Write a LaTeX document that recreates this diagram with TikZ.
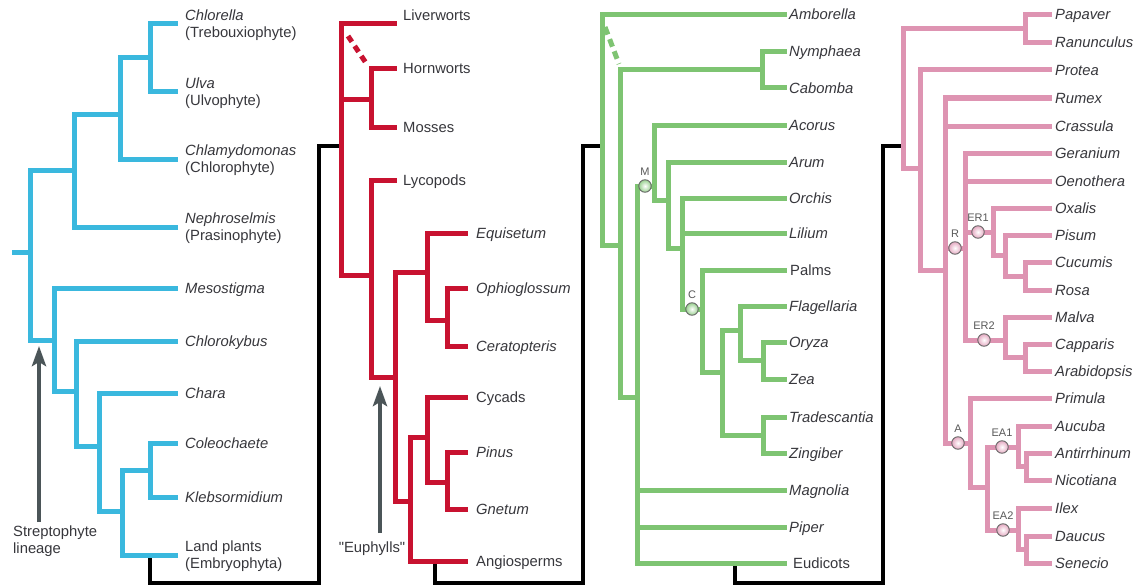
\documentclass[tikz,border=0pt]{standalone}
\usepackage{fontspec}
\setmainfont{Liberation Sans}
\newfontfamily\plainquote{Liberation Sans}
\usetikzlibrary{arrows.meta}
\definecolor{cblue}{RGB}{58,184,222}
\definecolor{cred}{RGB}{200,18,48}
\definecolor{cgreen}{RGB}{126,196,114}
\definecolor{cpink}{RGB}{222,148,178}
\definecolor{ctext}{RGB}{55,55,60}
\definecolor{carrow}{RGB}{75,85,88}
\tikzset{
  br/.style={line width=5pt},
  tb/.style={br, cblue},
  tr/.style={br, cred},
  tg/.style={br, cgreen},
  tp/.style={br, cpink},
  blk/.style={line width=4pt, black},
  arr/.style={line width=4pt, carrow, -{Stealth[length=20pt,width=14pt,inset=4pt]}},
  lab/.style={inner sep=0pt, text=ctext, font=\fontsize{14.8}{17}\selectfont, anchor=base west, yshift=-5pt},
  labi/.style={inner sep=0pt, text=ctext, font=\fontsize{14.8}{17}\selectfont\itshape, anchor=base west, yshift=-5pt},
  lab2/.style={inner sep=0pt, text=ctext, font=\fontsize{14.8}{17}\selectfont, anchor=west, align=left, yshift=-1.4pt},
  slab/.style={inner sep=0pt, text=black!65, font=\fontsize{11}{12}\selectfont},
  gdot/.style={circle, minimum size=12.5pt, inner sep=0pt, draw=black!60, line width=0.9pt, inner color=white, outer color=cgreen!80},
  pdot/.style={circle, minimum size=12.5pt, inner sep=0pt, draw=black!60, line width=0.9pt, inner color=white, outer color=cpink!80},
}
\newcommand\mkleaf[6]{%
  \coordinate (#2) at (#3,#4);
  \node[#1, xshift=#5pt] (#2-t) at (#2) {#6};
}
\begin{document}
\begin{tikzpicture}[x=1pt,y=-1pt, line join=miter]
\fill[white] (0,0) rectangle (1141,586);
\useasboundingbox (0,0) rectangle (1141,586);

% ---------- coordinates of internal nodes ----------
% blue
\coordinate (bstub) at (12,252);
\coordinate (b0) at (30,252);
\coordinate (bChl) at (74,170);
\coordinate (bCU3) at (120,114);
\coordinate (bCU) at (150,58);
\coordinate (bStr) at (54,340);
\coordinate (b2) at (76,391);
\coordinate (b3) at (99,446);
\coordinate (b4) at (122,511);
\coordinate (b5) at (150,470);
% red
\coordinate (r0) at (341,146);
\coordinate (rHM) at (371,99);
\coordinate (rT) at (371,275);
\coordinate (rEu) at (395,377);
\coordinate (rFern) at (427,272);
\coordinate (rOph) at (447,320);
\coordinate (rSeed) at (410,501);
\coordinate (rGym) at (427,437);
\coordinate (rGn) at (447,482);
% green
\coordinate (g0) at (602,146);
\coordinate (g1) at (620,245);
\coordinate (gNC) at (762,70);
\coordinate (g2) at (637,397);
\coordinate (gM) at (654,186);
\coordinate (g3) at (668,200);
\coordinate (g4) at (682,248);
\coordinate (gC) at (702,309);
\coordinate (g5) at (722,372);
\coordinate (g6) at (740,330);
\coordinate (g7) at (763,360);
\coordinate (g8) at (763,435);
% pink
\coordinate (p0) at (903,146);
\coordinate (pPR) at (1025,29);
\coordinate (p1) at (920,168);
\coordinate (p2) at (945,270);
\coordinate (pR) at (965,248);
\coordinate (pER1) at (993,232);
\coordinate (pPi) at (1005,255);
\coordinate (pCR) at (1025,276);
\coordinate (pER2) at (1005,340);
\coordinate (pCA) at (1025,357);
\coordinate (pA) at (970,443);
\coordinate (pE) at (987,487);
\coordinate (pEA1) at (1018,447);
\coordinate (pAN) at (1026,466);
\coordinate (pEA2) at (1018,530);
\coordinate (pDS) at (1026,549);

% ---------- leaves and labels ----------
\mkleaf{lab2}{Chlorella}{178}{24}{7}{\textit{Chlorella}\\(Trebouxiophyte)}
\mkleaf{lab2}{Ulva}{178}{92}{7}{\textit{Ulva}\\(Ulvophyte)}
\mkleaf{lab2}{Chlamydomonas}{178}{159}{7}{\textit{Chlamydomonas}\\(Chlorophyte)}
\mkleaf{lab2}{Nephroselmis}{178}{227}{7}{\textit{Nephroselmis}\\(Prasinophyte)}
\mkleaf{labi}{Mesostigma}{178}{288}{7}{Mesostigma}
\mkleaf{labi}{Chlorokybus}{178}{341}{7}{Chlorokybus}
\mkleaf{labi}{Chara}{178}{393}{7}{Chara}
\mkleaf{labi}{Coleochaete}{178}{443}{7}{Coleochaete}
\mkleaf{labi}{Klebsormidium}{178}{497}{7}{Klebsormidium}
\mkleaf{lab2}{Landplants}{178}{555}{7}{Land plants\\(Embryophyta)}

\coordinate (Liverworts) at (397,24);
\node[lab] (Liverworts-t) at (403,16) {Liverworts};
\mkleaf{lab}{Hornworts}{397}{69}{6}{Hornworts}
\mkleaf{lab}{Mosses}{397}{127}{6}{Mosses}
\mkleaf{lab}{Lycopods}{397}{180}{6}{Lycopods}
\mkleaf{labi}{Equisetum}{468}{233}{8}{Equisetum}
\mkleaf{labi}{Ophioglossum}{468}{288}{8}{Ophioglossum}
\mkleaf{labi}{Ceratopteris}{468}{346}{8}{Ceratopteris}
\mkleaf{lab}{Cycads}{468}{397}{8}{Cycads}
\mkleaf{labi}{Pinus}{468}{452}{8}{Pinus}
\mkleaf{labi}{Gnetum}{468}{509}{8}{Gnetum}
\mkleaf{lab}{Angiosperms}{468}{561}{8}{Angiosperms}

\mkleaf{labi}{Amborella}{787}{15}{2}{Amborella}
\mkleaf{labi}{Nymphaea}{787}{52}{2}{Nymphaea}
\mkleaf{labi}{Cabomba}{787}{88}{2}{Cabomba}
\mkleaf{labi}{Acorus}{787}{125}{2}{Acorus}
\mkleaf{labi}{Arum}{787}{162}{2}{Arum}
\mkleaf{labi}{Orchis}{787}{198}{2}{Orchis}
\mkleaf{labi}{Lilium}{787}{233}{2}{Lilium}
\mkleaf{lab}{Palms}{787}{270}{3}{Palms}
\mkleaf{labi}{Flagellaria}{787}{306}{2}{Flagellaria}
\mkleaf{labi}{Oryza}{787}{342}{2}{Oryza}
\mkleaf{labi}{Zea}{787}{379}{2}{Zea}
\mkleaf{labi}{Tradescantia}{787}{417}{2}{Tradescantia}
\mkleaf{labi}{Zingiber}{787}{453}{2}{Zingiber}
\mkleaf{labi}{Magnolia}{787}{490}{2}{Magnolia}
\mkleaf{labi}{Piper}{787}{527}{2}{Piper}
\mkleaf{lab}{Eudicots}{787}{563}{6}{Eudicots}

\mkleaf{labi}{Papaver}{1052}{15}{3}{Papaver}
\mkleaf{labi}{Ranunculus}{1052}{43}{3}{Ranunculus}
\mkleaf{labi}{Protea}{1052}{70}{3}{Protea}
\mkleaf{labi}{Rumex}{1052}{98}{3}{Rumex}
\mkleaf{labi}{Crassula}{1052}{126}{3}{Crassula}
\mkleaf{labi}{Geranium}{1052}{153}{3}{Geranium}
\mkleaf{labi}{Oenothera}{1052}{181}{3}{Oenothera}
\mkleaf{labi}{Oxalis}{1052}{208}{3}{Oxalis}
\mkleaf{labi}{Pisum}{1052}{235}{3}{Pisum}
\mkleaf{labi}{Cucumis}{1052}{262}{3}{Cucumis}
\mkleaf{labi}{Rosa}{1052}{290}{3}{Rosa}
\mkleaf{labi}{Malva}{1052}{317}{3}{Malva}
\mkleaf{labi}{Capparis}{1052}{344}{3}{Capparis}
\mkleaf{labi}{Arabidopsis}{1052}{371}{3}{Arabidopsis}
\mkleaf{labi}{Primula}{1052}{398}{3}{Primula}
\mkleaf{labi}{Aucuba}{1052}{426}{3}{Aucuba}
\mkleaf{labi}{Antirrhinum}{1052}{453}{3}{Antirrhinum}
\mkleaf{labi}{Nicotiana}{1052}{480}{3}{Nicotiana}
\mkleaf{labi}{Ilex}{1052}{508}{3}{Ilex}
\mkleaf{labi}{Daucus}{1052}{536}{3}{Daucus}
\mkleaf{labi}{Senecio}{1052}{563}{3}{Senecio}

% ---------- black connectors between panels ----------
\coordinate (kL) at (150,555);
\coordinate (kA) at (435,561);
\coordinate (kE) at (735,563);
\coordinate (k1) at (319,583);
\coordinate (k2) at (583,583);
\coordinate (k3) at (883,583);
\draw[blk] (kL) |- (k1) |- (r0);
\draw[blk] (kA) |- (k2) |- (g0);
\draw[blk] (kE) |- (k3) |- (p0);

% ---------- trees ----------
\draw[tb] (bstub) -- (b0);
\foreach \a/\b in {b0/bChl,b0/bStr,bChl/bCU3,bChl/Nephroselmis,bCU3/bCU,bCU3/Chlamydomonas,bCU/Chlorella,bCU/Ulva,bStr/Mesostigma,bStr/b2,b2/Chlorokybus,b2/b3,b3/Chara,b3/b4,b4/b5,b4/Landplants,b5/Coleochaete,b5/Klebsormidium}
  \draw[tb] (\a) |- (\b);

\foreach \a/\b in {r0/Liverworts,r0/rHM,r0/rT,rHM/Hornworts,rHM/Mosses,rT/Lycopods,rT/rEu,rEu/rFern,rEu/rSeed,rFern/Equisetum,rFern/rOph,rOph/Ophioglossum,rOph/Ceratopteris,rSeed/rGym,rSeed/Angiosperms,rGym/Cycads,rGym/rGn,rGn/Pinus,rGn/Gnetum}
  \draw[tr] (\a) |- (\b);
\coordinate (rd1) at (348,36);
\coordinate (rd2) at (366,63);
\draw[tr, dash pattern=on 7pt off 5pt] (rd1) -- (rd2);

\foreach \a/\b in {g0/Amborella,g0/g1,g1/gNC,g1/g2,gNC/Nymphaea,gNC/Cabomba,g2/gM,g2/Magnolia,g2/Piper,g2/Eudicots,gM/Acorus,gM/g3,g3/Arum,g3/g4,g4/Orchis,g4/Lilium,g4/gC,gC/Palms,gC/g5,g5/g6,g5/g8,g6/Flagellaria,g6/g7,g7/Oryza,g7/Zea,g8/Tradescantia,g8/Zingiber}
  \draw[tg] (\a) |- (\b);
\coordinate (gd1) at (605,27);
\coordinate (gd2) at (619,64);
\draw[tg, dash pattern=on 8pt off 5pt] (gd1) -- (gd2);

\foreach \a/\b in {p0/pPR,p0/p1,pPR/Papaver,pPR/Ranunculus,p1/Protea,p1/p2,p2/Rumex,p2/Crassula,p2/pR,p2/pA,pR/Geranium,pR/Oenothera,pR/pER1,pR/pER2,pER1/Oxalis,pER1/pPi,pPi/Pisum,pPi/pCR,pCR/Cucumis,pCR/Rosa,pER2/Malva,pER2/pCA,pCA/Capparis,pCA/Arabidopsis,pA/Primula,pA/pE,pE/pEA1,pE/pEA2,pEA1/Aucuba,pEA1/pAN,pAN/Antirrhinum,pAN/Nicotiana,pEA2/Ilex,pEA2/pDS,pDS/Daucus,pDS/Senecio}
  \draw[tp] (\a) |- (\b);

% ---------- marked nodes ----------
\node[gdot] (Mdot) at (645,186) {};
\node[slab] (Mlab) at (645,172) {M};
\node[gdot] (Cdot) at (692,309) {};
\node[slab] (Clab) at (692,295) {C};
\node[pdot] (Rdot) at (955,248) {};
\node[slab] (Rlab) at (955,234) {R};
\node[pdot] (ER1dot) at (978,232) {};
\node[slab] (ER1lab) at (978,218) {ER1};
\node[pdot] (ER2dot) at (984,340) {};
\node[slab] (ER2lab) at (984,326) {ER2};
\node[pdot] (Adot) at (958,443) {};
\node[slab] (Alab) at (958,429) {A};
\node[pdot] (EA1dot) at (1002,447) {};
\node[slab] (EA1lab) at (1002,433) {EA1};
\node[pdot] (EA2dot) at (1003,530) {};
\node[slab] (EA2lab) at (1003,516) {EA2};

% ---------- arrows ----------
\coordinate (a1s) at (39,522);
\coordinate (a1e) at (39,346);
\draw[arr] (a1s) -- (a1e);
\node[lab] (strep1) at (13,531) {Streptophyte};
\node[lab] (strep2) at (13,548) {lineage};
\coordinate (a2s) at (380,533);
\coordinate (a2e) at (380,386);
\draw[arr] (a2s) -- (a2e);
\node[lab, anchor=base] (euph) at (372,547) {\plainquote "Euphylls"};
\end{tikzpicture}
\end{document}
